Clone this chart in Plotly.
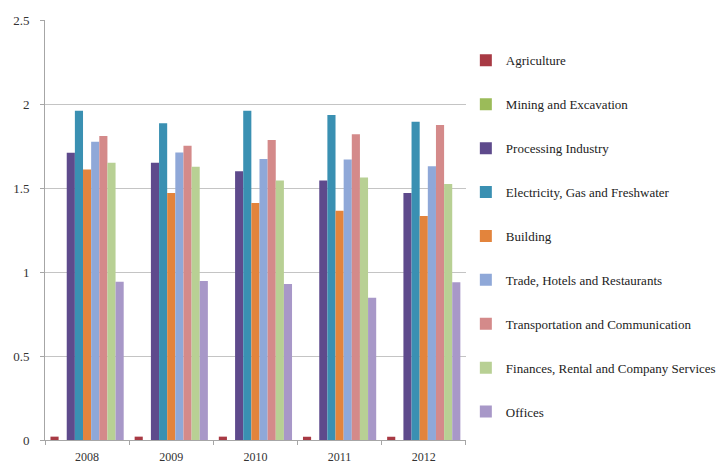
import plotly.graph_objects as go

years = ["2008", "2009", "2010", "2011", "2012"]
sectors = [
    "Agriculture",
    "Mining and Excavation",
    "Processing Industry",
    "Electricity, Gas and Freshwater",
    "Building",
    "Trade, Hotels and Restaurants",
    "Transportation and Communication",
    "Finances, Rental and Company Services",
    "Offices",
]
agriculture = [0.02, 0.02, 0.02, 0.02, 0.02]
mining = [0.0, 0.0, 0.0, 0.0, 0.0]
processing = [1.71, 1.65, 1.60, 1.545, 1.47]
electricity = [1.96, 1.885, 1.96, 1.935, 1.895]
building = [1.61, 1.47, 1.41, 1.365, 1.333]
trade = [1.776, 1.712, 1.673, 1.67, 1.63]
transport = [1.81, 1.752, 1.786, 1.82, 1.875]
finance = [1.65, 1.627, 1.544, 1.563, 1.524]
offices = [0.942, 0.946, 0.929, 0.847, 0.939]

series = [agriculture, mining, processing, electricity, building, trade, transport, finance, offices]
colors = ["#A83A44", "#9BBB59", "#5E4A8C", "#3A90B2", "#E3843C",
          "#8FA8D8", "#D48A8A", "#B8D094", "#A898C8"]

SERIF = "'Liberation Serif', 'Times New Roman', serif"

fig = go.Figure()
for i, (name, vals, col) in enumerate(zip(sectors, series, colors)):
    fig.add_trace(go.Bar(
        x=years, y=vals, name=name, marker_color=col,
        marker_line_width=0, legendgroup=f"g{i}",
    ))

fig.update_layout(
    width=720, height=468,
    margin=dict(l=45, r=248, t=20, b=28),
    paper_bgcolor="white", plot_bgcolor="white",
    barmode="group", bargap=0.13, bargroupgap=0,
    font=dict(family=SERIF, size=13, color="#333333"),
    legend=dict(
        x=0.647, xanchor="left", y=0.903, yanchor="top",
        xref="container", yref="container", maxheight=460,
        font=dict(family=SERIF, size=13, color="#222222"),
        tracegroupgap=24, itemwidth=30,
    ),
    xaxis=dict(
        showline=True, linecolor="#A6A6A6", linewidth=1,
        ticks="outside", ticklen=4, tickcolor="#A6A6A6",
        tickson="boundaries", showgrid=False,
        ticklabelstandoff=6, automargin=False,
        tickfont=dict(family=SERIF, size=12, color="#333333"),
    ),
    yaxis=dict(
        range=[0, 2.5], tickvals=[0, 0.5, 1, 1.5, 2, 2.5],
        ticktext=["0", "0.5", "1", "1.5", "2", "2.5"],
        showline=True, linecolor="#A6A6A6", linewidth=1,
        ticks="outside", ticklen=4, tickcolor="#A6A6A6",
        showgrid=True, gridcolor="#C4C4C4", gridwidth=1,
        zeroline=False, ticklabelstandoff=8, automargin=False,
        tickfont=dict(family=SERIF, size=13, color="#333333"),
    ),
)

fig.write_html("out.html")
